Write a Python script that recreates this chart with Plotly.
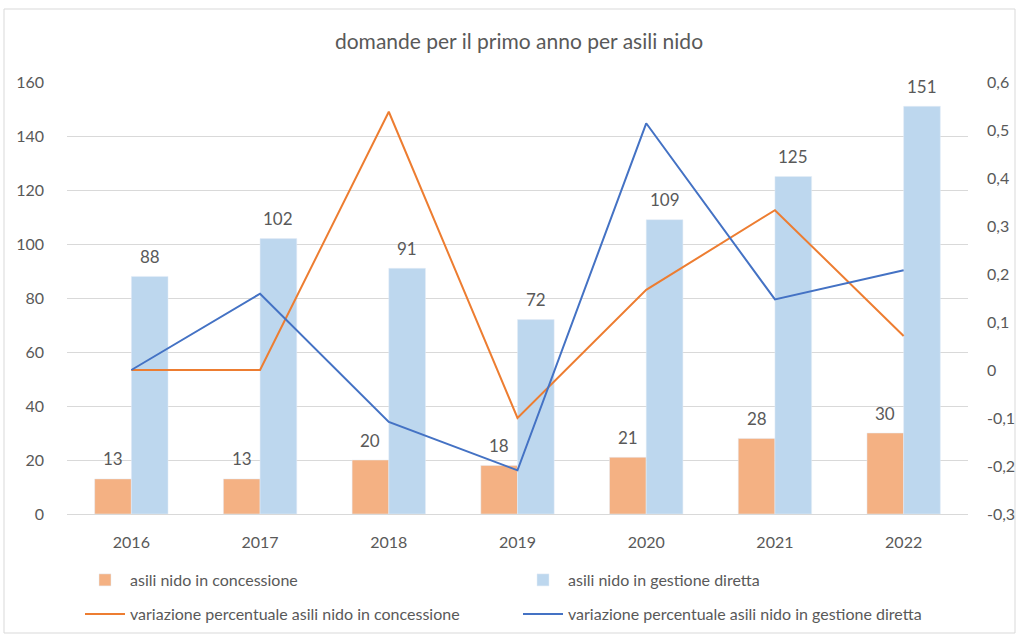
import plotly.graph_objects as go

years = ["2016", "2017", "2018", "2019", "2020", "2021", "2022"]
concessione = [13, 13, 20, 18, 21, 28, 30]
gestione = [88, 102, 91, 72, 109, 125, 151]
var_concessione = [0, 0, 0.538, -0.1, 0.167, 0.333, 0.071]
var_gestione = [0, 0.159, -0.108, -0.209, 0.514, 0.147, 0.208]

left_ticks = [0, 20, 40, 60, 80, 100, 120, 140, 160]
right_ticks = [-0.3, -0.2, -0.1, 0, 0.1, 0.2, 0.3, 0.4, 0.5, 0.6]
right_labels = ["-0,3", "-0,2", "-0,1", "0", "0,1", "0,2", "0,3", "0,4", "0,5", "0,6"]

GRAY = "#595959"
FONT = "Lato"

fig = go.Figure()
fig.add_trace(go.Bar(x=years, y=concessione, name="asili nido in concessione",
                     marker_color="#F4B183", legend="legend"))
fig.add_trace(go.Bar(x=years, y=gestione, name="asili nido in gestione diretta",
                     marker_color="#BDD7EE", legend="legend"))
fig.add_trace(go.Scatter(x=years, y=var_concessione, yaxis="y2", mode="lines",
                         name="variazione percentuale asili nido in concessione",
                         line=dict(color="#ED7D31", width=2), legend="legend2"))
fig.add_trace(go.Scatter(x=years, y=var_gestione, yaxis="y2", mode="lines",
                         name="variazione percentuale asili nido in gestione diretta",
                         line=dict(color="#4472C4", width=2), legend="legend2"))

W, H = 1019, 637
L, R, T, B = 67, 968, 82, 514
BARGAP = 0.43
half = (R - L) / len(years) * (1 - BARGAP) / 4  # px offset of each bar centre from category centre

# value labels above bars (positioned on the data scale, by category index)
for i, v in enumerate(concessione):
    fig.add_annotation(x=i, y=v, text=str(v), showarrow=False, xshift=-half, yshift=20,
                       yanchor="middle", font=dict(size=17, color=GRAY, family=FONT))
for i, v in enumerate(gestione):
    fig.add_annotation(x=i, y=v, text=str(v), showarrow=False, xshift=half, yshift=20,
                       yanchor="middle", font=dict(size=17, color=GRAY, family=FONT))

def px2x(p):
    return (p - L) / (R - L)

def px2y(p):
    return (B - p) / (B - T)

fig.add_shape(type="rect", xref="paper", yref="paper",
              x0=px2x(4), x1=px2x(1015), y0=px2y(633), y1=px2y(9),
              line=dict(color="#D9D9D9", width=1), layer="below")

leg_common = dict(orientation="h", xref="container", x=80 / W, xanchor="left",
                  yref="container", yanchor="middle",
                  entrywidth=383, entrywidthmode="pixels", traceorder="normal",
                  font=dict(size=16, color=GRAY), itemwidth=40, bgcolor="rgba(0,0,0,0)")

fig.update_layout(
    width=W, height=H,
    margin=dict(l=L, r=W - R, t=T, b=H - B, pad=0, autoexpand=False),
    paper_bgcolor="white", plot_bgcolor="white",
    font=dict(family=FONT, color=GRAY, size=16),
    title=dict(text="domande per il primo anno per asili nido", x=519 / W, xanchor="center",
               y=1 - 42 / H, yanchor="middle", font=dict(size=21, color=GRAY, family=FONT)),
    barmode="group", bargap=BARGAP, bargroupgap=0,
    xaxis=dict(type="category", range=[-0.5, len(years) - 0.5], showgrid=False, showline=True,
               linecolor="#D9D9D9", ticks="", tickfont=dict(size=16, color=GRAY),
               ticklabelstandoff=14),
    yaxis=dict(range=[0, 160], tickvals=left_ticks, showgrid=True, gridcolor="#D9D9D9",
               zeroline=False, ticks="", tickfont=dict(size=16, color=GRAY), ticklabelstandoff=22),
    yaxis2=dict(range=[-0.3, 0.6], overlaying="y", side="right", tickvals=right_ticks,
                ticktext=right_labels, showgrid=False, zeroline=False, ticks="",
                tickfont=dict(size=16, color=GRAY), ticklabelstandoff=18),
    legend=dict(leg_common, y=1 - 580 / H),
    legend2=dict(leg_common, y=1 - 614 / H),
    showlegend=True,
)

fig.write_html("out.html", config={"displayModeBar": False},
               post_script="document.body.style.margin='0';document.body.style.overflow='hidden';")
